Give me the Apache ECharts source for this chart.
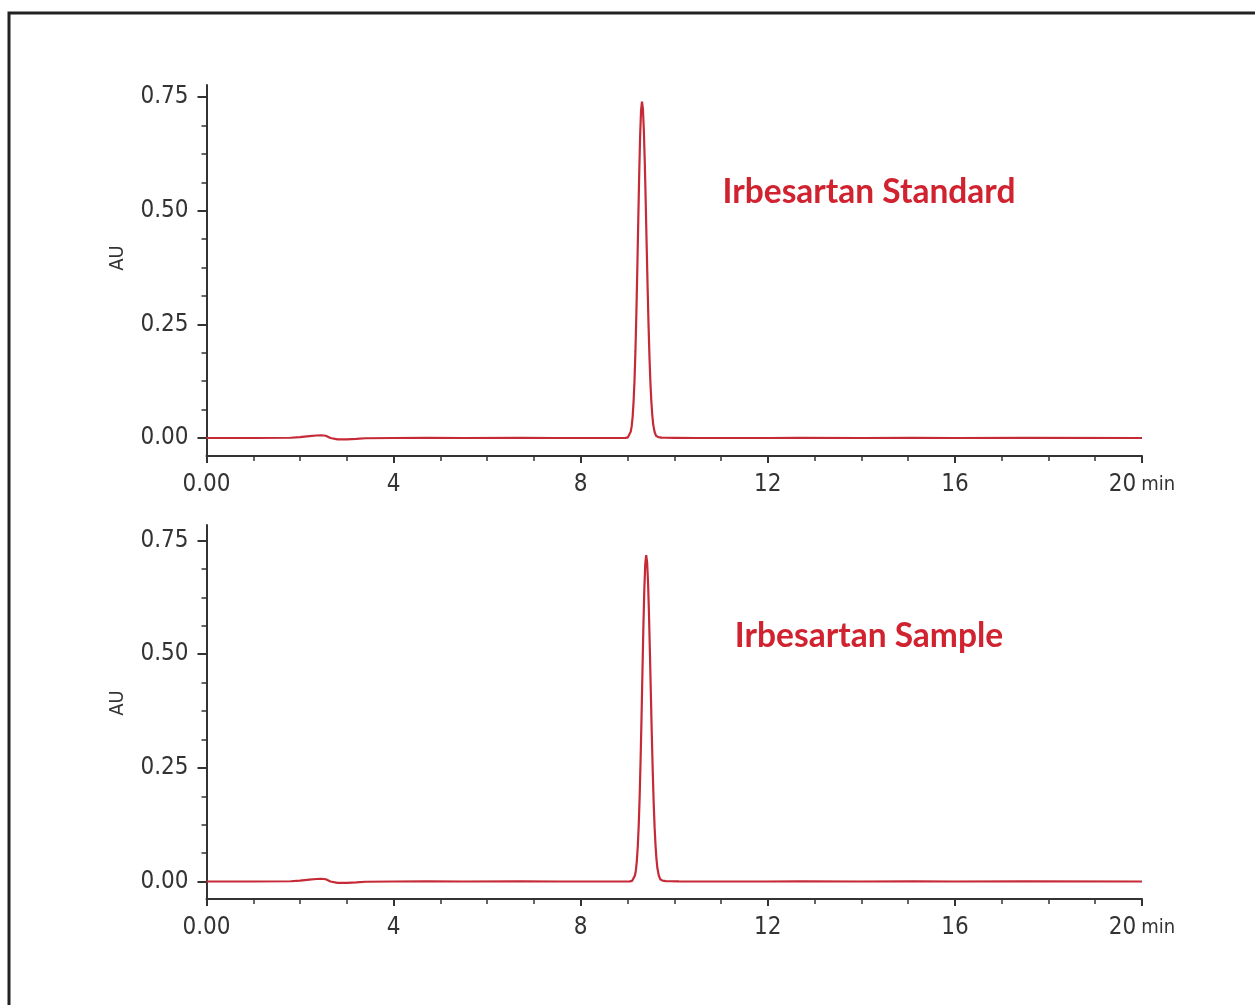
<!DOCTYPE html>
<html>
<head>
<meta charset="utf-8">
<script src="https://cdn.jsdelivr.net/npm/echarts@6/dist/echarts.min.js"></script>
<style>
html,body{margin:0;padding:0;background:#fff;}
#chart{width:1255px;height:1005px;}
</style>
</head>
<body>
<div id="chart"></div>
<script>
// ---- Data ----
const xTicks = [0, 4, 8, 12, 16, 20];
const yTicks = [0.00, 0.25, 0.50, 0.75];
const labels = ['Irbesartan Standard', 'Irbesartan Sample'];
const yName = 'AU';
const xUnit = 'min';

const stdTime = [0, 1.0, 1.8, 2.0, 2.2, 2.35, 2.45, 2.55, 2.65, 2.8, 3.0, 3.2, 3.4, 4.0, 4.7, 5.5, 6.7, 7.5, 8.5,
  8.96, 9.01, 9.04, 9.07, 9.09, 9.11, 9.13, 9.15, 9.17, 9.19, 9.21, 9.23, 9.25, 9.27, 9.29, 9.31,
  9.33, 9.35, 9.37, 9.39, 9.41, 9.43, 9.45, 9.47, 9.49, 9.51, 9.53, 9.55, 9.58, 9.61, 9.66, 9.73, 9.81,
  10.0, 10.5, 12.0, 12.7, 14.0, 15.1, 16.0, 17.5, 20.0];
const stdAU = [0, 0, 0.0005, 0.002, 0.004, 0.0055, 0.006, 0.005, 0.0, -0.003, -0.003, -0.002, -0.0005, 0, 0.0005, 0, 0.0005, 0, 0,
  0.0002, 0.0015, 0.0048, 0.014, 0.026, 0.046, 0.079, 0.126, 0.191, 0.273, 0.370, 0.475, 0.577, 0.662, 0.720, 0.740,
  0.724, 0.677, 0.606, 0.519, 0.425, 0.333, 0.250, 0.179, 0.123, 0.081, 0.051, 0.030, 0.013, 0.005, 0.002, 0.001, 0.0006,
  0.0004, 0, 0, 0.0005, 0, 0.0004, 0, 0.0003, 0];

const smpTime = [0, 1.0, 1.8, 2.0, 2.2, 2.35, 2.45, 2.55, 2.65, 2.8, 3.0, 3.2, 3.4, 4.0, 4.7, 5.5, 6.7, 7.5, 8.5,
  9.05, 9.10, 9.13, 9.16, 9.18, 9.20, 9.22, 9.24, 9.26, 9.28, 9.30, 9.32, 9.34, 9.36, 9.38, 9.40,
  9.42, 9.44, 9.46, 9.48, 9.50, 9.52, 9.54, 9.56, 9.58, 9.60, 9.62, 9.64, 9.67, 9.70, 9.75, 9.82, 9.90,
  10.1, 10.6, 12.0, 12.7, 14.0, 15.1, 16.0, 17.5, 20.0];
const smpAU = [0, 0, 0.0005, 0.002, 0.004, 0.0055, 0.006, 0.005, 0.0, -0.003, -0.003, -0.002, -0.0005, 0, 0.0005, 0, 0.0005, 0, 0,
  0.0002, 0.0015, 0.0047, 0.0133, 0.025, 0.045, 0.077, 0.122, 0.185, 0.265, 0.359, 0.461, 0.560, 0.642, 0.698, 0.718,
  0.702, 0.657, 0.588, 0.503, 0.412, 0.323, 0.243, 0.174, 0.119, 0.079, 0.049, 0.029, 0.013, 0.005, 0.002, 0.001, 0.0006,
  0.0004, 0, 0, 0.0005, 0, 0.0004, 0, 0.0003, 0];

// ---- Layout ----
const FONT = '"Liberation Sans Narrow", "DejaVu Sans Condensed", "Roboto", sans-serif';
const AXC = '#333';
const LINEC = '#c52a37';
const TXTC = '#d0222f';
const plotLeft = 206.5, plotWidth = 935.5;
const panels = [
  {frameTop: 85,  frameH: 371, dataTop: 97,    dataH: 341, label: labels[0], labelY: 192, auY: 258, t: stdTime, v: stdAU},
  {frameTop: 525, frameH: 374, dataTop: 540.5, dataH: 341, label: labels[1], labelY: 636, auY: 703, t: smpTime, v: smpAU}
];

const grid = [], xAxis = [], yAxis = [], series = [], graphic = [];

graphic.push({type: 'rect', silent: true, z: -10,
  shape: {x: 9, y: 13, width: 1300, height: 1100},
  style: {fill: 'none', stroke: '#222', lineWidth: 3}});

panels.forEach((p, i) => {
  const gf = grid.length;
  grid.push({left: plotLeft, width: plotWidth, top: p.frameTop, height: p.frameH});
  const gd = grid.length;
  grid.push({left: plotLeft, width: plotWidth, top: p.dataTop, height: p.dataH});

  // frame axes (axis lines + x ticks/labels)
  xAxis.push({
    gridIndex: gf, type: 'value', min: xTicks[0], max: xTicks[xTicks.length - 1], interval: 4,
    axisLine: {onZero: false, lineStyle: {color: AXC, width: 2}},
    axisTick: {show: true, length: 7, lineStyle: {color: AXC, width: 2}},
    minorTick: {show: true, splitNumber: 4, length: 5, lineStyle: {color: AXC, width: 1.5}},
    splitLine: {show: false},
    axisLabel: {
      margin: 17, fontSize: 24, color: AXC, fontFamily: FONT,
      formatter: v => v === 0 ? '0.00' : (v === 20 ? v + '{u|' + xUnit + '}' : String(v)),
      rich: {u: {fontSize: 20, color: AXC, fontFamily: FONT, padding: [0, 0, 0, 5]}}
    }
  });
  yAxis.push({
    gridIndex: gf, type: 'value', min: 0, max: 1,
    axisLine: {onZero: false, lineStyle: {color: AXC, width: 2}},
    axisTick: {show: false}, axisLabel: {show: false}, splitLine: {show: false}
  });

  // data axes
  xAxis.push({gridIndex: gd, type: 'value', min: 0, max: 20, show: false});
  yAxis.push({
    gridIndex: gd, type: 'value', min: yTicks[0], max: yTicks[yTicks.length - 1], interval: 0.25,
    axisLine: {show: false, onZero: false},
    axisTick: {show: true, length: 9, lineStyle: {color: AXC, width: 2}},
    minorTick: {show: true, splitNumber: 4, length: 5, lineStyle: {color: AXC, width: 1.5}},
    splitLine: {show: false},
    axisLabel: {margin: 18, fontSize: 24, color: AXC, fontFamily: FONT, formatter: v => v.toFixed(2)}
  });

  series.push({
    type: 'line', xAxisIndex: gd, yAxisIndex: gd, showSymbol: false, clip: false,
    lineStyle: {color: LINEC, width: 2.2},
    data: p.t.map((t, k) => [t, p.v[k]])
  });

  graphic.push({type: 'text', x: 869, y: p.labelY, silent: true,
    style: {text: p.label, fill: TXTC, fontSize: 33.5, fontWeight: 'bold', fontFamily: 'Lato, "Open Sans", sans-serif',
      align: 'center', verticalAlign: 'middle'}});
  graphic.push({type: 'text', x: 118, y: p.auY, rotation: Math.PI / 2, silent: true,
    style: {text: yName, fill: AXC, fontSize: 20, fontFamily: FONT, align: 'center', verticalAlign: 'middle'}});
});

const chart = echarts.init(document.getElementById('chart'), null, {renderer: 'canvas'});
chart.setOption({animation: false, backgroundColor: '#fff', grid, xAxis, yAxis, series, graphic});
</script>
</body>
</html>
